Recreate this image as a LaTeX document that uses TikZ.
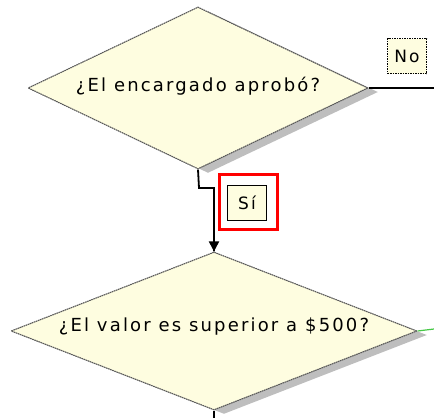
\documentclass[tikz,border=0pt]{standalone}
\usepackage{fontspec}
\setmainfont{DejaVu Sans}
\newfontfamily\flowfont[LetterSpace=12]{DejaVu Sans}
\usetikzlibrary{shapes.geometric,shadows,arrows.meta}
\definecolor{notefill}{RGB}{254,253,224}
\definecolor{shadegray}{RGB}{190,190,190}
\definecolor{linkgreen}{RGB}{70,200,70}
\tikzset{
	decision/.style={diamond, fill=notefill, draw=black!65, line width=1.1pt,
		dash pattern=on 1.6pt off 0.6pt, inner sep=0pt,
		drop shadow={shadow xshift=10pt, shadow yshift=-4pt, fill=shadegray, opacity=1}},
	qtext/.style={font=\flowfont\fontsize{18}{21}\selectfont, inner sep=0pt},
	answer/.style={fill=notefill, draw=black, line width=1.2pt, inner sep=0pt,
		minimum width=39pt, minimum height=35pt, font=\flowfont\fontsize{17}{20}\selectfont},
	flow/.style={line width=1.8pt}
}
\begin{document}
\begin{tikzpicture}[x=1pt, y=-1pt]
				\useasboundingbox (0,0) rectangle (434,418);
				
				%first question
				\node[decision, minimum width=340pt, minimum height=162pt] (q1) at (198,88){};
				\node[qtext] (q1text) at (198,86){¿El encargado aprobó?};
				
				%second question
				\node[decision, minimum width=406pt, minimum height=158pt] (q2) at (214,331){};
				\node[qtext] (q2text) at (214,327){¿El valor es superior a \$500?};
				
				%answers
				\node[answer, line width=1.4pt, dash pattern=on 1.5pt off 1pt] (no) at (407,56){No};
				\node[answer] (si) at (247,203){Sí};
				\node[draw=red, line width=3pt, minimum width=58pt, minimum height=55pt] (mark) at (248,202){};
				
				%free ends
				\coordinate (noend) at (434,88);
				\coordinate (greenend) at (434,329);
				\coordinate (downend) at (214,418);
				\coordinate (bend) at (199,188);
				
				\draw[flow] (q1.east) -- (noend);
				\draw[flow] (q1.south) -- (bend) -| (q2.north);
				\draw[flow, -{Triangle[width=10pt,length=10pt]}] (214,230) -- (q2.north);
				\draw[line width=1.2pt, linkgreen] (q2.east) -- (greenend);
				\draw[flow] (q2.south) -- (downend);
			\end{tikzpicture}
\end{document}
